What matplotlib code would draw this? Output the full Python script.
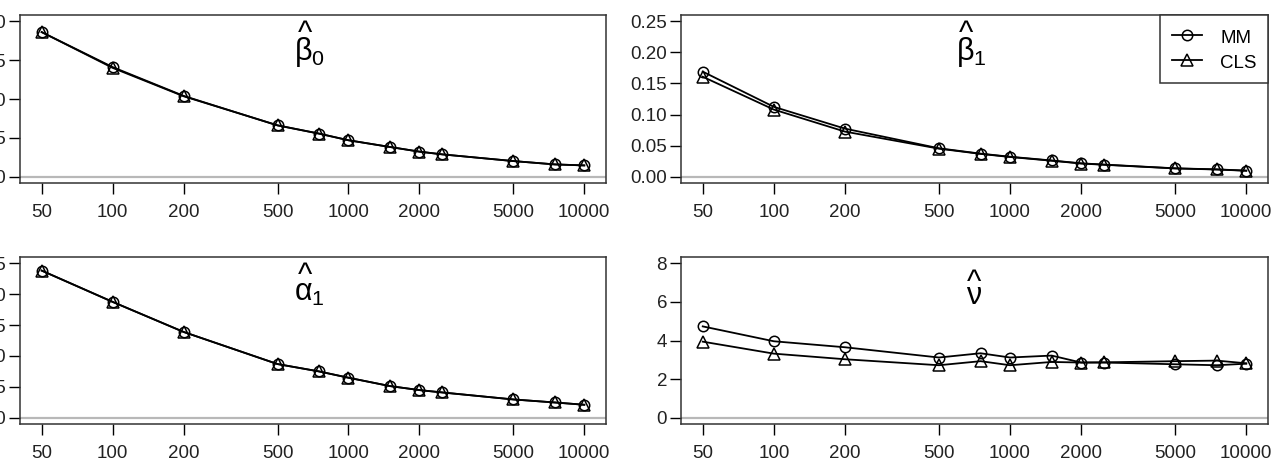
import numpy as np
import matplotlib
matplotlib.use("Agg")
import matplotlib.pyplot as plt
from matplotlib.ticker import FixedLocator, NullLocator, FixedFormatter

plt.rcParams['font.family'] = ['Liberation Sans', 'DejaVu Sans']
plt.rcParams['mathtext.fontset'] = 'custom'
plt.rcParams['mathtext.rm'] = 'Liberation Sans'
plt.rcParams['mathtext.it'] = 'Liberation Sans'
plt.rcParams['mathtext.default'] = 'rm'

# ---- data ----
n = [50, 100, 200, 500, 750, 1000, 1500, 2000, 2500, 5000, 7500, 10000]
xtick_labels = ["50", "100", "200", "500", "1000", "2000", "5000", "10000"]
xtick_vals = [50, 100, 200, 500, 1000, 2000, 5000, 10000]

beta0_mm = [0.186, 0.141, 0.104, 0.066, 0.0555, 0.047, 0.0383, 0.0323, 0.0288, 0.0202, 0.0159, 0.0146]
beta0_cls = [0.186, 0.140, 0.1035, 0.0662, 0.0555, 0.0469, 0.0383, 0.0323, 0.0288, 0.0202, 0.0159, 0.0146]

beta1_mm = [0.169, 0.1124, 0.0774, 0.0458, 0.0372, 0.0322, 0.0262, 0.0216, 0.0196, 0.0136, 0.0119, 0.0099]
beta1_cls = [0.1608, 0.1080, 0.0726, 0.0452, 0.0368, 0.0318, 0.0258, 0.0213, 0.0193, 0.0134, 0.0117, 0.0097]

alpha1_mm = [0.238, 0.1874, 0.1388, 0.0869, 0.0750, 0.0648, 0.0513, 0.0448, 0.0410, 0.0297, 0.0248, 0.0211]
alpha1_cls = [0.238, 0.1874, 0.1388, 0.0869, 0.0750, 0.0648, 0.0513, 0.0448, 0.0410, 0.0297, 0.0248, 0.0211]

nu_mm = [4.73, 3.96, 3.65, 3.12, 3.34, 3.12, 3.22, 2.86, 2.86, 2.77, 2.72, 2.80]
nu_cls = [3.94, 3.32, 3.03, 2.72, 2.93, 2.72, 2.89, 2.86, 2.87, 2.93, 2.96, 2.82]

panels = [
    dict(mm=beta0_mm, cls=beta0_cls, sym=r"\beta", sub="0",
         yticks=[0.00, 0.05, 0.10, 0.15, 0.20], ylabels=["0.00", "0.05", "0.10", "0.15", "0.20"], ytop=0.20),
    dict(mm=beta1_mm, cls=beta1_cls, sym=r"\beta", sub="1",
         yticks=[0.00, 0.05, 0.10, 0.15, 0.20, 0.25], ylabels=["0.00", "0.05", "0.10", "0.15", "0.20", "0.25"], ytop=0.25),
    dict(mm=alpha1_mm, cls=alpha1_cls, sym=r"\alpha", sub="1",
         yticks=[0.00, 0.05, 0.10, 0.15, 0.20, 0.25], ylabels=["0.00", "0.05", "0.10", "0.15", "0.20", "0.25"], ytop=0.25),
    dict(mm=nu_mm, cls=nu_cls, sym=r"\nu", sub="",
         yticks=[0, 2, 4, 6, 8], ylabels=["0", "2", "4", "6", "8"], ytop=8),
]

W, H = 1279, 462
fig = plt.figure(figsize=(W / 100, H / 100), dpi=100)

# axes rectangles in pixels: (left, top, right, bottom)
rects = [(20, 15, 606, 183), (681, 15, 1268, 183),
         (20, 257, 606, 424), (681, 257, 1268, 424)]
# title placement (axes fraction): symbol center y, hat baseline y
title_pos = [(0.782, 0.838), (0.782, 0.838), (0.785, 0.836), (0.768, 0.795)]

lx0, lx1 = np.log10(50), np.log10(10000)
ext = 0.04 * (lx1 - lx0)
xlim = (10 ** (lx0 - ext), 10 ** (lx1 + ext))

fs = 13.5
for i, (p, r, tp) in enumerate(zip(panels, rects, title_pos)):
    l, t, rr, b = r
    ax = fig.add_axes([l / W, (H - b) / H, (rr - l) / W, (b - t) / H])
    ax.set_xscale('log')
    ax.set_xlim(*xlim)
    yr = p['ytop']
    ax.set_ylim(-0.04 * yr, yr * 1.04)
    ax.axhline(0, color='#b8b8b8', lw=1.6, zorder=1)
    ax.plot(n, p['mm'], color='black', lw=1.3, marker='o', ms=7.5,
            mfc='none', mec='black', mew=1.1, label='MM', zorder=3)
    ax.plot(n, p['cls'], color='black', lw=1.3, marker='^', ms=8.5,
            mfc='none', mec='black', mew=1.1, label='CLS', zorder=3)
    ax.xaxis.set_major_locator(FixedLocator(xtick_vals))
    ax.xaxis.set_major_formatter(FixedFormatter(xtick_labels))
    ax.xaxis.set_minor_locator(NullLocator())
    ax.set_yticks(p['yticks'])
    ax.set_yticklabels(p['ylabels'])
    ax.tick_params(axis='both', direction='out', length=8, width=1.0,
                   labelsize=fs, color='black', labelcolor='#222222')
    ax.tick_params(axis='x', pad=7)
    ax.tick_params(axis='y', pad=2)
    for s in ax.spines.values():
        s.set_color('#333333')
        s.set_linewidth(1.1)
    # title symbol with hat
    if p['sub']:
        ax.text(0.494, tp[0], r"$%s_{%s}$" % (p['sym'], p['sub']), transform=ax.transAxes,
                ha='center', va='center', fontsize=22, color='black')
        hx = 0.486
    else:
        ax.text(0.5, tp[0], r"$%s$" % p['sym'], transform=ax.transAxes,
                ha='center', va='center', fontsize=22, color='black')
        hx = 0.5
    ax.text(hx, tp[1], "^", transform=ax.transAxes,
            ha='center', va='baseline', fontsize=22, color='black')
    if i == 1:
        leg = ax.legend(loc='upper right', bbox_to_anchor=(1.0, 1.0), borderaxespad=0,
                        frameon=True, fancybox=False, edgecolor='#333333', framealpha=1,
                        fontsize=fs, handlelength=1.6, handletextpad=1.0,
                        handleheight=1.3, borderpad=0.6, labelspacing=0.25)
        leg.get_frame().set_linewidth(1.1)

fig.savefig("out.png", dpi=100)
